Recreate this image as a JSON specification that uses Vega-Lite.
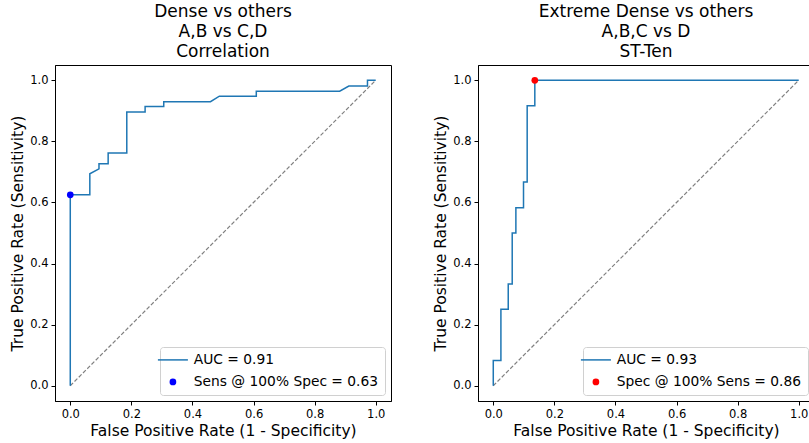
{
  "$schema": "https://vega.github.io/schema/vega-lite/v6.json",
  "padding": {"left": 10, "top": 2, "right": 0, "bottom": 0},
  "config": {
    "font": "DejaVu Sans",
    "view": {"stroke": "#000", "strokeWidth": 1},
    "axis": {"grid": false, "labelFontSize": 11.5, "titleFontSize": 15.5, "titleFontWeight": "normal", "labelColor": "#000", "titleColor": "#000", "tickColor": "#000", "domainColor": "#000", "tickSize": 4, "labelPadding": 3, "titlePadding": 4, "labelFont": "DejaVu Sans", "titleFont": "DejaVu Sans"},
    "title": {"fontSize": 17, "lineHeight": 20, "fontWeight": "normal", "color": "#000", "offset": 0, "font": "DejaVu Sans"},
    "legend": {"labelFontSize": 13.8, "labelColor": "#000", "labelFont": "DejaVu Sans", "labelLimit": 0, "fillColor": "white", "strokeColor": "#d0d0d0", "cornerRadius": 3, "padding": 6, "rowPadding": 7, "symbolSize": 900, "labelOffset": 14, "offset": 6, "orient": "bottom-right", "title": null}
  },
  "datasets": {
    "roc1": [
      {"i": 0, "fpr": 0, "tpr": 0, "series": "AUC = 0.91"},
      {"i": 1, "fpr": 0, "tpr": 0.625, "series": "AUC = 0.91"},
      {"i": 2, "fpr": 0.064, "tpr": 0.625, "series": "AUC = 0.91"},
      {"i": 3, "fpr": 0.064, "tpr": 0.694, "series": "AUC = 0.91"},
      {"i": 4, "fpr": 0.094, "tpr": 0.71, "series": "AUC = 0.91"},
      {"i": 5, "fpr": 0.094, "tpr": 0.727, "series": "AUC = 0.91"},
      {"i": 6, "fpr": 0.124, "tpr": 0.727, "series": "AUC = 0.91"},
      {"i": 7, "fpr": 0.124, "tpr": 0.762, "series": "AUC = 0.91"},
      {"i": 8, "fpr": 0.185, "tpr": 0.762, "series": "AUC = 0.91"},
      {"i": 9, "fpr": 0.185, "tpr": 0.896, "series": "AUC = 0.91"},
      {"i": 10, "fpr": 0.245, "tpr": 0.896, "series": "AUC = 0.91"},
      {"i": 11, "fpr": 0.245, "tpr": 0.914, "series": "AUC = 0.91"},
      {"i": 12, "fpr": 0.306, "tpr": 0.914, "series": "AUC = 0.91"},
      {"i": 13, "fpr": 0.306, "tpr": 0.93, "series": "AUC = 0.91"},
      {"i": 14, "fpr": 0.459, "tpr": 0.93, "series": "AUC = 0.91"},
      {"i": 15, "fpr": 0.488, "tpr": 0.948, "series": "AUC = 0.91"},
      {"i": 16, "fpr": 0.609, "tpr": 0.948, "series": "AUC = 0.91"},
      {"i": 17, "fpr": 0.609, "tpr": 0.964, "series": "AUC = 0.91"},
      {"i": 18, "fpr": 0.882, "tpr": 0.964, "series": "AUC = 0.91"},
      {"i": 19, "fpr": 0.912, "tpr": 0.981, "series": "AUC = 0.91"},
      {"i": 20, "fpr": 0.973, "tpr": 0.981, "series": "AUC = 0.91"},
      {"i": 21, "fpr": 0.973, "tpr": 1.0, "series": "AUC = 0.91"},
      {"i": 22, "fpr": 1.0, "tpr": 1.0, "series": "AUC = 0.91"}
    ],
    "pt1": [{"fpr": 0, "tpr": 0.625, "series": "Sens @ 100% Spec = 0.63"}],
    "roc2": [
      {"i": 0, "fpr": 0, "tpr": 0, "series": "AUC = 0.93"},
      {"i": 1, "fpr": 0, "tpr": 0.083, "series": "AUC = 0.93"},
      {"i": 2, "fpr": 0.025, "tpr": 0.083, "series": "AUC = 0.93"},
      {"i": 3, "fpr": 0.025, "tpr": 0.25, "series": "AUC = 0.93"},
      {"i": 4, "fpr": 0.049, "tpr": 0.25, "series": "AUC = 0.93"},
      {"i": 5, "fpr": 0.049, "tpr": 0.333, "series": "AUC = 0.93"},
      {"i": 6, "fpr": 0.062, "tpr": 0.333, "series": "AUC = 0.93"},
      {"i": 7, "fpr": 0.062, "tpr": 0.5, "series": "AUC = 0.93"},
      {"i": 8, "fpr": 0.074, "tpr": 0.5, "series": "AUC = 0.93"},
      {"i": 9, "fpr": 0.074, "tpr": 0.583, "series": "AUC = 0.93"},
      {"i": 10, "fpr": 0.099, "tpr": 0.583, "series": "AUC = 0.93"},
      {"i": 11, "fpr": 0.099, "tpr": 0.667, "series": "AUC = 0.93"},
      {"i": 12, "fpr": 0.111, "tpr": 0.667, "series": "AUC = 0.93"},
      {"i": 13, "fpr": 0.111, "tpr": 0.917, "series": "AUC = 0.93"},
      {"i": 14, "fpr": 0.136, "tpr": 0.917, "series": "AUC = 0.93"},
      {"i": 15, "fpr": 0.136, "tpr": 1.0, "series": "AUC = 0.93"},
      {"i": 16, "fpr": 1.0, "tpr": 1.0, "series": "AUC = 0.93"}
    ],
    "pt2": [{"fpr": 0.136, "tpr": 1.0, "series": "Spec @ 100% Sens = 0.86"}],
    "diag": [{"i": 0, "fpr": 0, "tpr": 0}, {"i": 1, "fpr": 1, "tpr": 1}]
  },
  "hconcat": [
    {
      "width": 336,
      "height": 336,
      "title": {"text": ["Dense vs others", "A,B vs C,D", "Correlation"]},
      "encoding": {
        "x": {"field": "fpr", "type": "quantitative", "scale": {"domain": [-0.05, 1.05], "nice": false, "zero": false}, "axis": {"values": [0, 0.2, 0.4, 0.6, 0.8, 1.0], "format": ".1f", "title": "False Positive Rate (1 - Specificity)"}},
        "y": {"field": "tpr", "type": "quantitative", "scale": {"domain": [-0.05, 1.05], "nice": false, "zero": false}, "axis": {"values": [0, 0.2, 0.4, 0.6, 0.8, 1.0], "format": ".1f", "title": "True Positive Rate (Sensitivity)"}}
      },
      "layer": [
        {"data": {"name": "diag"}, "mark": {"type": "line", "color": "#808080", "strokeDash": [4, 2], "strokeWidth": 1.2}, "encoding": {"order": {"field": "i"}}},
        {"data": {"name": "roc1"}, "mark": {"type": "line", "strokeWidth": 1.5}, "encoding": {"order": {"field": "i"}, "color": {"field": "series", "type": "nominal", "scale": {"domain": ["AUC = 0.91", "Sens @ 100% Spec = 0.63"], "range": ["#1f77b4", "blue"]}, "legend": {"encode": {"symbols": {"update": {"shape": {"signal": "datum.value === 'AUC = 0.91' ? 'stroke' : 'circle'"}, "size": {"signal": "datum.value === 'AUC = 0.91' ? 900 : 45"}, "fill": {"signal": "datum.value === 'AUC = 0.91' ? 'transparent' : 'blue'"}, "stroke": {"signal": "datum.value === 'AUC = 0.91' ? '#1f77b4' : 'blue'"}, "strokeWidth": {"signal": "datum.value === 'AUC = 0.91' ? 1.5 : 0"}, "opacity": {"value": 1}}}}}}}},
        {"data": {"name": "pt1"}, "mark": {"type": "point", "filled": true, "size": 45, "opacity": 1}, "encoding": {"color": {"field": "series", "type": "nominal"}}}
      ]
    },
    {
      "width": 336,
      "height": 336,
      "title": {"text": ["Extreme Dense vs others", "A,B,C vs D", "ST-Ten"]},
      "encoding": {
        "x": {"field": "fpr", "type": "quantitative", "scale": {"domain": [-0.05, 1.05], "nice": false, "zero": false}, "axis": {"values": [0, 0.2, 0.4, 0.6, 0.8, 1.0], "format": ".1f", "title": "False Positive Rate (1 - Specificity)"}},
        "y": {"field": "tpr", "type": "quantitative", "scale": {"domain": [-0.05, 1.05], "nice": false, "zero": false}, "axis": {"values": [0, 0.2, 0.4, 0.6, 0.8, 1.0], "format": ".1f", "title": "True Positive Rate (Sensitivity)"}}
      },
      "layer": [
        {"data": {"name": "diag"}, "mark": {"type": "line", "color": "#808080", "strokeDash": [4, 2], "strokeWidth": 1.2}, "encoding": {"order": {"field": "i"}}},
        {"data": {"name": "roc2"}, "mark": {"type": "line", "strokeWidth": 1.5}, "encoding": {"order": {"field": "i"}, "color": {"field": "series", "type": "nominal", "scale": {"domain": ["AUC = 0.93", "Spec @ 100% Sens = 0.86"], "range": ["#1f77b4", "red"]}, "legend": {"encode": {"symbols": {"update": {"shape": {"signal": "datum.value === 'AUC = 0.93' ? 'stroke' : 'circle'"}, "size": {"signal": "datum.value === 'AUC = 0.93' ? 900 : 45"}, "fill": {"signal": "datum.value === 'AUC = 0.93' ? 'transparent' : 'red'"}, "stroke": {"signal": "datum.value === 'AUC = 0.93' ? '#1f77b4' : 'red'"}, "strokeWidth": {"signal": "datum.value === 'AUC = 0.93' ? 1.5 : 0"}, "opacity": {"value": 1}}}}}}}},
        {"data": {"name": "pt2"}, "mark": {"type": "point", "filled": true, "size": 45, "opacity": 1}, "encoding": {"color": {"field": "series", "type": "nominal"}}}
      ]
    }
  ],
  "spacing": 41,
  "resolve": {"scale": {"color": "independent"}, "legend": {"color": "independent"}}
}
